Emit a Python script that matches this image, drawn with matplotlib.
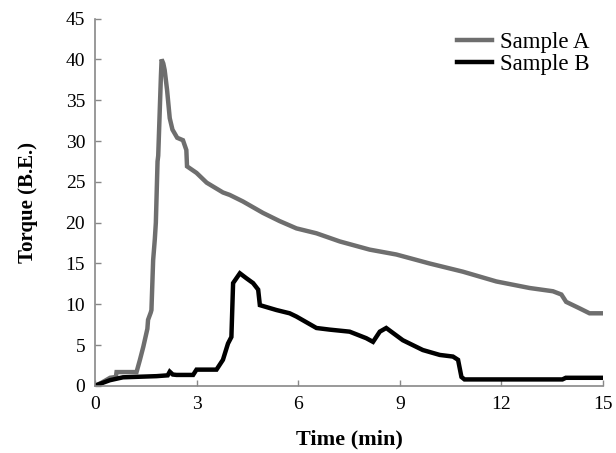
import matplotlib
matplotlib.use("Agg")
import matplotlib.pyplot as plt

# Sample A torque trace (min, B.E.)
time_a = [0.0, 0.2, 0.45, 0.62, 0.64, 1.23, 1.33, 1.43, 1.55, 1.57, 1.65, 1.67,
          1.72, 1.77, 1.80, 1.85, 1.87, 1.95, 1.97, 2.02, 2.06, 2.13, 2.21, 2.29,
          2.43, 2.60, 2.70, 2.72, 3.0, 3.3, 3.78, 3.98, 4.37, 4.96, 5.45, 5.95,
          6.54, 7.23, 8.11, 8.9, 9.88, 10.86, 11.85, 12.83, 13.52, 13.77, 13.91,
          14.31, 14.6, 15.0]
torque_a = [0.0, 0.4, 1.0, 1.1, 1.7, 1.7, 3.2, 4.8, 7.0, 8.1, 9.0, 9.3,
            15.4, 18.0, 20.0, 27.5, 28.2, 38.0, 40.0, 39.5, 38.7, 36.3, 32.8, 31.4,
            30.4, 30.1, 28.9, 26.9, 26.1, 24.9, 23.7, 23.4, 22.6, 21.2, 20.2, 19.3,
            18.7, 17.7, 16.7, 16.1, 15.0, 14.0, 12.8, 12.0, 11.6, 11.2, 10.3,
            9.5, 8.9, 8.9]

# Sample B torque trace (min, B.E.)
time_b = [0.0, 0.05, 0.44, 0.83, 1.82, 2.15, 2.21, 2.3, 2.41, 2.9, 3.0, 3.59,
          3.78, 3.93, 4.03, 4.08, 4.28, 4.47, 4.67, 4.82, 4.87, 5.36, 5.75, 5.95,
          6.54, 6.93, 7.52, 8.01, 8.21, 8.41, 8.6, 9.09, 9.68, 10.18, 10.57,
          10.72, 10.82, 10.91, 13.8, 13.9, 15.0]
torque_b = [0.0, 0.1, 0.7, 1.06, 1.2, 1.3, 1.75, 1.4, 1.35, 1.35, 2.0, 2.0,
            3.2, 5.2, 6.0, 12.6, 13.8, 13.2, 12.6, 11.8, 9.9, 9.3, 8.9, 8.5,
            7.1, 6.9, 6.65, 5.85, 5.4, 6.65, 7.1, 5.6, 4.4, 3.8, 3.6,
            3.2, 1.1, 0.8, 0.8, 1.0, 1.0]

x_ticks = [0, 3, 6, 9, 12, 15]
y_ticks = [0, 5, 10, 15, 20, 25, 30, 35, 40, 45]

plt.rcParams["font.family"] = ["Liberation Serif", "DejaVu Serif"]

fig = plt.figure(figsize=(6.16, 4.53), dpi=100)
ax = fig.add_axes([0.154, 0.148, 0.825, 0.811])

ax.plot(time_a, torque_a, color="#6e6e6e", lw=3.2, label="Sample A",
        solid_joinstyle="miter")
ax.plot(time_b, torque_b, color="black", lw=3.2, label="Sample B",
        solid_joinstyle="miter")

ax.set_xlim(0, 15)
ax.set_ylim(0, 45)
ax.set_xticks(x_ticks)
ax.set_yticks(y_ticks)
ax.tick_params(direction="in", length=4, width=1, color="#888888",
               labelsize=14, pad=7)

for side in ("top", "right"):
    ax.spines[side].set_visible(False)
for side in ("left", "bottom"):
    ax.spines[side].set_color("#888888")
    ax.spines[side].set_linewidth(1.2)

ax.set_xlabel("Time (min)", fontsize=16, fontweight="bold", labelpad=12)
ax.set_ylabel("Torque (B.E.)", fontsize=15, fontweight="bold", labelpad=20)

ax.legend(loc="upper right", bbox_to_anchor=(0.957, 0.93),
          bbox_transform=fig.transFigure, frameon=False, fontsize=16.5,
          handlelength=1.5, handletextpad=0.35, labelspacing=0.05,
          borderaxespad=0, borderpad=0)

fig.savefig("out.png", dpi=100)
